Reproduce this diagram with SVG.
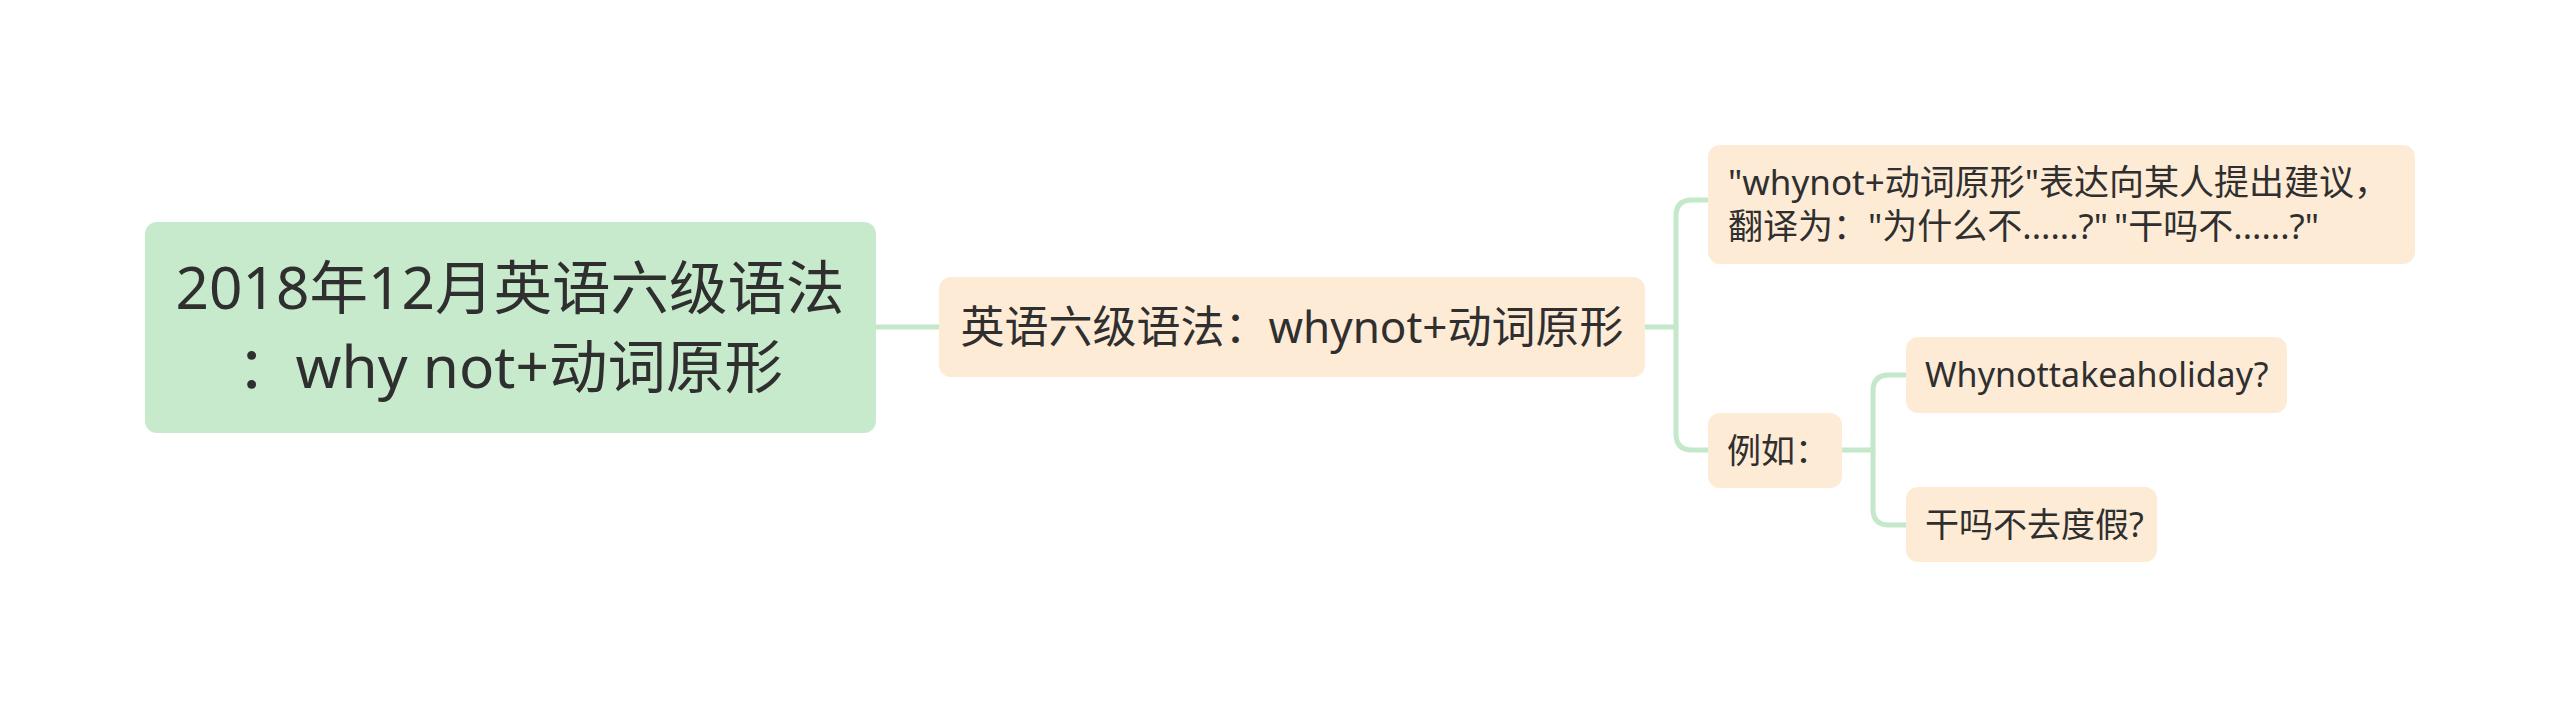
<svg xmlns="http://www.w3.org/2000/svg" width="2560" height="708" viewBox="0 0 2560 708">
<style>
.t{font-family:"Noto Sans","Noto Sans CJK SC",sans-serif;fill:#2f2f2f}
.root{fill:#c6eacb}
.sub{fill:#feebd6}
.c{fill:none;stroke:#c3e8ca;stroke-width:5;stroke-linecap:round}
</style>
<rect width="2560" height="708" fill="#ffffff"/>
<g id="connectors">
<path class="c" d="M876 327 H939"/>
<path class="c" d="M1645 327 H1676"/>
<path class="c" d="M1708 200 H1692 Q1676 200 1676 216 V434 Q1676 450 1692 450 H1708"/>
<path class="c" d="M1842 450 H1873"/>
<path class="c" d="M1906 375 H1889 Q1873 375 1873 391 V509 Q1873 525 1889 525 H1906"/>
</g>
<g id="root">
<rect class="root" x="145" y="222" width="731" height="211" rx="12"/>
<text class="t" x="510" y="309" font-size="58.5" text-anchor="middle">2018年12月英语六级语法</text>
<text class="t" x="510" y="388" font-size="58.5" text-anchor="middle">：why not+动词原形</text>
</g>
<g id="main">
<rect class="sub" x="939" y="277" width="706" height="100" rx="12"/>
<text class="t" x="1292" y="343" font-size="44" text-anchor="middle">英语六级语法：whynot+动词原形</text>
</g>
<g id="desc">
<rect class="sub" x="1708" y="145" width="707" height="119" rx="12"/>
<text class="t" x="1728" y="195" font-size="35">"whynot+动词原形"表达向某人提出建议，</text>
<text class="t" x="1728" y="239" font-size="35">翻译为："为什么不......?"<tspan dx="6">"干吗不......?"</tspan></text>
</g>
<g id="example">
<rect class="sub" x="1708" y="413" width="134" height="75" rx="12"/>
<text class="t" x="1727" y="463" font-size="34">例如：</text>
</g>
<g id="en">
<rect class="sub" x="1906" y="337" width="381" height="76" rx="12"/>
<text class="t" x="1925" y="387" font-size="34">Whynottakeaholiday?</text>
</g>
<g id="zh">
<rect class="sub" x="1906" y="487" width="251" height="75" rx="12"/>
<text class="t" x="1925" y="537" font-size="34">干吗不去度假?</text>
</g>
</svg>
